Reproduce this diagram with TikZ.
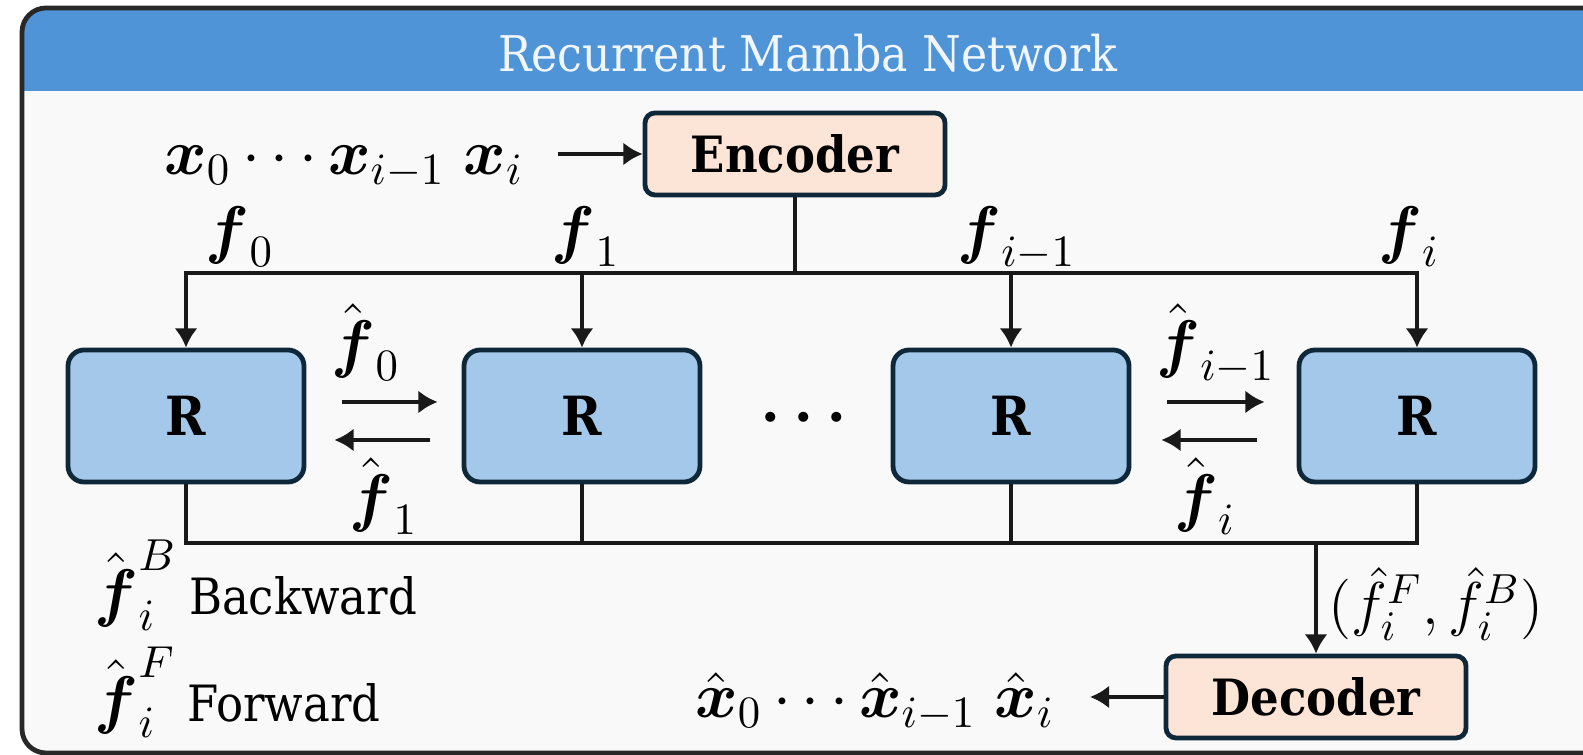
\documentclass[tikz,border=0pt]{standalone}
\usepackage{amsmath}
\usepackage{fontspec}
\setmainfont{DejaVu Serif Condensed}
\usetikzlibrary{arrows.meta}
\definecolor{bannerc}{RGB}{80,148,216}
\definecolor{bgc}{RGB}{249,249,249}
\definecolor{rfill}{RGB}{164,200,234}
\definecolor{pfill}{RGB}{252,228,214}
\definecolor{edgec}{RGB}{14,40,58}
\definecolor{framec}{RGB}{40,40,40}
\definecolor{titlec}{RGB}{240,246,252}
\newcommand{\mylab}[1]{\scalebox{1.12}{#1}}
\begin{document}
\begin{tikzpicture}[x=0.25pt,y=-0.25pt,
  line/.style={line width=1.2pt, draw=black!90},
  arr/.style={line, -{Latex[length=4.8pt,width=5.8pt]}},
  box/.style={draw=edgec, line width=1.2pt, inner sep=0pt},
  rbox/.style={box, fill=rfill, minimum width=59pt, minimum height=33pt, rounded corners=4pt, font=\fontsize{13.5}{16}\selectfont\bfseries},
  pbox/.style={box, fill=pfill, minimum width=75pt, minimum height=20.5pt, rounded corners=2.5pt, font=\fontsize{12.5}{15}\selectfont\bfseries},
  lab/.style={inner sep=0pt, font=\fontsize{14.4}{17}\selectfont},
  txt/.style={inner sep=0pt, font=\fontsize{12.5}{15}\selectfont}]
\useasboundingbox (0,0) rectangle (1583,755);
\clip (0,0) rectangle (1583,755);
% frame and banner
\begin{scope}
\clip[rounded corners=6pt] (22,8) rectangle (1610,753);
\fill[bgc] (0,0) rectangle (1610,755);
\fill[bannerc] (0,0) rectangle (1610,91);
\end{scope}
\draw[framec, line width=1.2pt, rounded corners=6pt] (22,8) rectangle (1610,753);
\node[anchor=base, inner sep=0pt, text=titlec, font=\fontsize{12.3}{15}\selectfont] (title) at (808,72) {Recurrent Mamba Network};
% encoder / decoder
\node[pbox] (enc) at (795,154) {Encoder};
\node[pbox] (dec) at (1316,697) {Decoder};
\node[lab, anchor=base] (inp) at (344,175) {\mylab{$\boldsymbol{x}_0\cdots\boldsymbol{x}_{i-1}\;\boldsymbol{x}_i$}};
\node[lab, anchor=base] (outp) at (875,718) {\mylab{$\hat{\boldsymbol{x}}_0\cdots\hat{\boldsymbol{x}}_{i-1}\;\hat{\boldsymbol{x}}_i$}};
\coordinate (inarr) at (558,154);
\coordinate (outarr) at (1090,697);
\draw[arr] (inarr) -- (enc.west);
\draw[arr] (dec.west) -- (outarr);
% R blocks
\node[rbox] (R1) at (186,416) {R};
\node[rbox] (R2) at (582,416) {R};
\node[rbox] (R3) at (1011,416) {R};
\node[rbox] (R4) at (1417,416) {R};
\node[lab] (dots) at (810,418) {\mylab{$\boldsymbol{\cdots}$}};
% buses
\coordinate (topy) at (0,273);
\coordinate (boty) at (0,543);
\draw[line] (enc.south) -- (enc.south |- topy);
\draw[arr] (enc.south |- topy) -| (R1.north);
\draw[arr] (enc.south |- topy) -| (R4.north);
\draw[arr] (R2.north |- topy) -- (R2.north);
\draw[arr] (R3.north |- topy) -- (R3.north);
\draw[line] (R1.south) |- (dec.north |- boty);
\draw[line] (R4.south) |- (dec.north |- boty);
\draw[line] (R2.south) -- (R2.south |- boty);
\draw[line] (R3.south) -- (R3.south |- boty);
\draw[arr] (dec.north |- boty) -- (dec.north);
% horizontal arrows
\draw[arr, shorten <=9pt, shorten >=6pt] ([yshift=3.5pt]R1.east) -- ([yshift=3.5pt]R2.west);
\draw[arr, shorten <=8pt, shorten >=7pt] ([yshift=-6pt]R2.west) -- ([yshift=-6pt]R1.east);
\draw[arr, shorten <=9pt, shorten >=8pt] ([yshift=3.5pt]R3.east) -- ([yshift=3.5pt]R4.west);
\draw[arr, shorten <=10pt, shorten >=7.5pt] ([yshift=-6pt]R4.west) -- ([yshift=-6pt]R3.east);
% labels
\node[lab, anchor=base] (f0) at (240,252) {\mylab{$\boldsymbol{f}_0$}};
\node[lab, anchor=base] (f1) at (586,252) {\mylab{$\boldsymbol{f}_1$}};
\node[lab, anchor=base] (fim1) at (1017,252) {\mylab{$\boldsymbol{f}_{i-1}$}};
\node[lab, anchor=base] (fi) at (1409,252) {\mylab{$\boldsymbol{f}_i$}};
\node[lab, anchor=base] (hf0) at (366,366) {\mylab{$\hat{\boldsymbol{f}}_0$}};
\node[lab, anchor=base] (hf1) at (384,520) {\mylab{$\hat{\boldsymbol{f}}_1$}};
\node[lab, anchor=base] (hfim1) at (1216,366) {\mylab{$\hat{\boldsymbol{f}}_{i-1}$}};
\node[lab, anchor=base] (hfi) at (1205,520) {\mylab{$\hat{\boldsymbol{f}}_i$}};
\node[lab, anchor=base] (pair) at (1436,625) {\scalebox{1.05}{$(\hat{f}^{F}_{i},\hat{f}^{B}_{i})$}};
% legend
\node[txt, anchor=base west] (legB) at (94,615) {{\fontsize{14.4}{17}\selectfont\mylab{$\hat{\boldsymbol{f}}^{B}_{i}$}}\hspace{3pt}Backward};
\node[txt, anchor=base west] (legF) at (94,722) {{\fontsize{14.4}{17}\selectfont\mylab{$\hat{\boldsymbol{f}}^{F}_{i}$}}\hspace{3pt}Forward};
\end{tikzpicture}
\end{document}
